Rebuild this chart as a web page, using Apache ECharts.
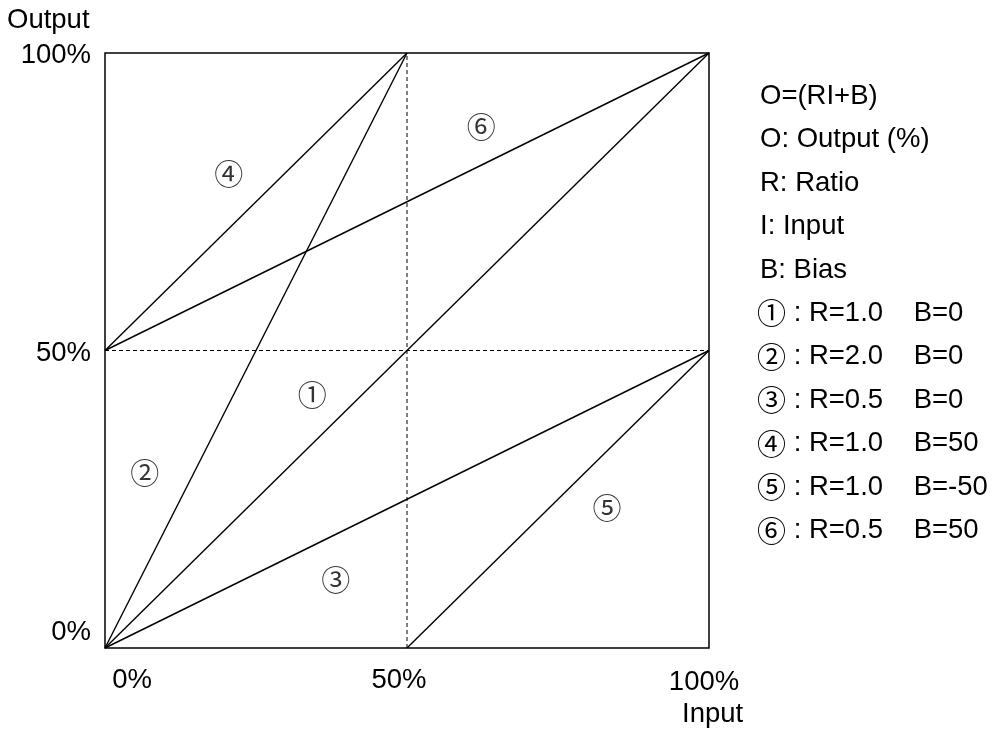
<!DOCTYPE html>
<html>
<head>
<meta charset="utf-8">
<script src="https://cdn.jsdelivr.net/npm/echarts@6/dist/echarts.min.js"></script>
<style>html,body{margin:0;padding:0;background:#fff}#c{width:1006px;height:733px}</style>
</head>
<body>
<div id="c"></div>
<script>
// ---- data ----
var xTicks = [0, 50, 100];
var yTicks = [0, 50, 100];
var tickLabel = ['0%', '50%', '100%'];
var line1 = [[0, 0], [100, 100]];   // R=1.0 B=0
var line2 = [[0, 0], [50, 100]];    // R=2.0 B=0
var line3 = [[0, 0], [100, 50]];    // R=0.5 B=0
var line4 = [[0, 50], [50, 100]];   // R=1.0 B=50
var line5 = [[50, 0], [100, 50]];   // R=1.0 B=-50
var line6 = [[0, 50], [100, 100]];  // R=0.5 B=50
var dashV = [[50, 0], [50, 100]];
var dashH = [[0, 50], [100, 50]];
var markerNames = ['①', '②', '③', '④', '⑤', '⑥'];
var markerPos = [[34.3, 42.5], [6.6, 29.4], [38.2, 11.4], [20.5, 79.7], [83.1, 23.5], [62.3, 87.6]];
var legendHead = ['O=(RI+B)', 'O: Output (%)', 'R: Ratio', 'I: Input', 'B: Bias'];
var legendParams = [' : R=1.0    B=0', ' : R=2.0    B=0', ' : R=0.5    B=0',
  ' : R=1.0    B=50', ' : R=1.0    B=-50', ' : R=0.5    B=50'];

var FONT = '"Liberation Sans", Arial, "DejaVu Sans", sans-serif';
var CFONT = '"Noto Sans CJK JP", "Noto Sans CJK SC", sans-serif';
var FS = 27.5;
var CFS = 29;

var chart = echarts.init(document.getElementById('c'), null, {renderer: 'canvas'});

function lineSeries(d, dashed) {
  return {
    type: 'line', data: d, symbol: 'none', silent: true, animation: false,
    lineStyle: {color: '#000', width: dashed ? 1 : 1.4, type: dashed ? [4, 3] : 'solid'},
    z: dashed ? 1 : 2
  };
}

var legendGraphics = legendHead.map(function (t, i) {
  return {
    type: 'text', left: 760, top: 98 + i * 43.5 - 16,
    style: {text: t, font: FS + 'px ' + FONT, fill: '#000'}
  };
}).concat(legendParams.map(function (t, i) {
  return {
    type: 'text', left: 757, top: 98 + (i + 5) * 43.5 - 17,
    style: {
      text: '{c|' + markerNames[i] + '}{t|' + t + '}',
      rich: {
        c: {fontSize: CFS, fontFamily: CFONT, fill: '#000', color: '#000', verticalAlign: 'middle'},
        t: {fontSize: FS, fontFamily: FONT, fill: '#000', color: '#000', verticalAlign: 'middle'}
      }
    }
  };
}));

var option = {
  animation: false,
  backgroundColor: '#fff',
  grid: {left: 105, top: 53, width: 604, height: 595, show: true, borderColor: '#000', borderWidth: 1.5, backgroundColor: 'transparent'},
  xAxis: {
    type: 'value', min: 0, max: 100, interval: 50,
    axisLine: {show: false}, axisTick: {show: false}, splitLine: {show: false},
    axisLabel: {
      margin: 18,
      fontSize: FS, fontFamily: FONT, color: '#000',
      formatter: function (v) {
        var i = xTicks.indexOf(v);
        return '{' + ['a', 'b', 'c'][i] + '|' + tickLabel[i] + '}';
      },
      rich: {
        a: {fontSize: FS, fontFamily: FONT, color: '#000', padding: [0, 0, 0, 54]},
        b: {fontSize: FS, fontFamily: FONT, color: '#000', padding: [0, 16, 0, 0]},
        c: {fontSize: FS, fontFamily: FONT, color: '#000', padding: [2, 10, 0, 0]}
      }
    }
  },
  yAxis: {
    type: 'value', min: 0, max: 100, interval: 50,
    axisLine: {show: false}, axisTick: {show: false}, splitLine: {show: false},
    axisLabel: {
      margin: 14,
      fontSize: FS, fontFamily: FONT, color: '#000',
      formatter: function (v) {
        var i = yTicks.indexOf(v);
        return '{' + ['a', 'b', 'c'][i] + '|' + tickLabel[i] + '}';
      },
      rich: {
        a: {fontSize: FS, fontFamily: FONT, color: '#000', padding: [0, 0, 32, 0]},
        b: {fontSize: FS, fontFamily: FONT, color: '#000', padding: [6, 0, 0, 0]},
        c: {fontSize: FS, fontFamily: FONT, color: '#000', padding: [4, 0, 0, 0]}
      }
    }
  },
  graphic: [
    {type: 'text', left: 7, top: 6, style: {text: 'Output', font: FS + 'px ' + FONT, fill: '#000'}},
    {type: 'text', left: 682, top: 700, style: {text: 'Input', font: FS + 'px ' + FONT, fill: '#000'}}
  ].concat(legendGraphics),
  series: [
    lineSeries(dashV, true), lineSeries(dashH, true),
    lineSeries(line1), lineSeries(line2), lineSeries(line3),
    lineSeries(line4), lineSeries(line5), lineSeries(line6),
    {
      type: 'scatter', symbolSize: 0, silent: true, z: 5,
      data: markerPos.map(function (p, i) { return {value: p, name: markerNames[i]}; }),
      label: {show: true, position: 'inside', formatter: '{b}', fontSize: CFS, fontFamily: CFONT, color: '#000'}
    }
  ]
};
chart.setOption(option);
</script>
</body>
</html>
